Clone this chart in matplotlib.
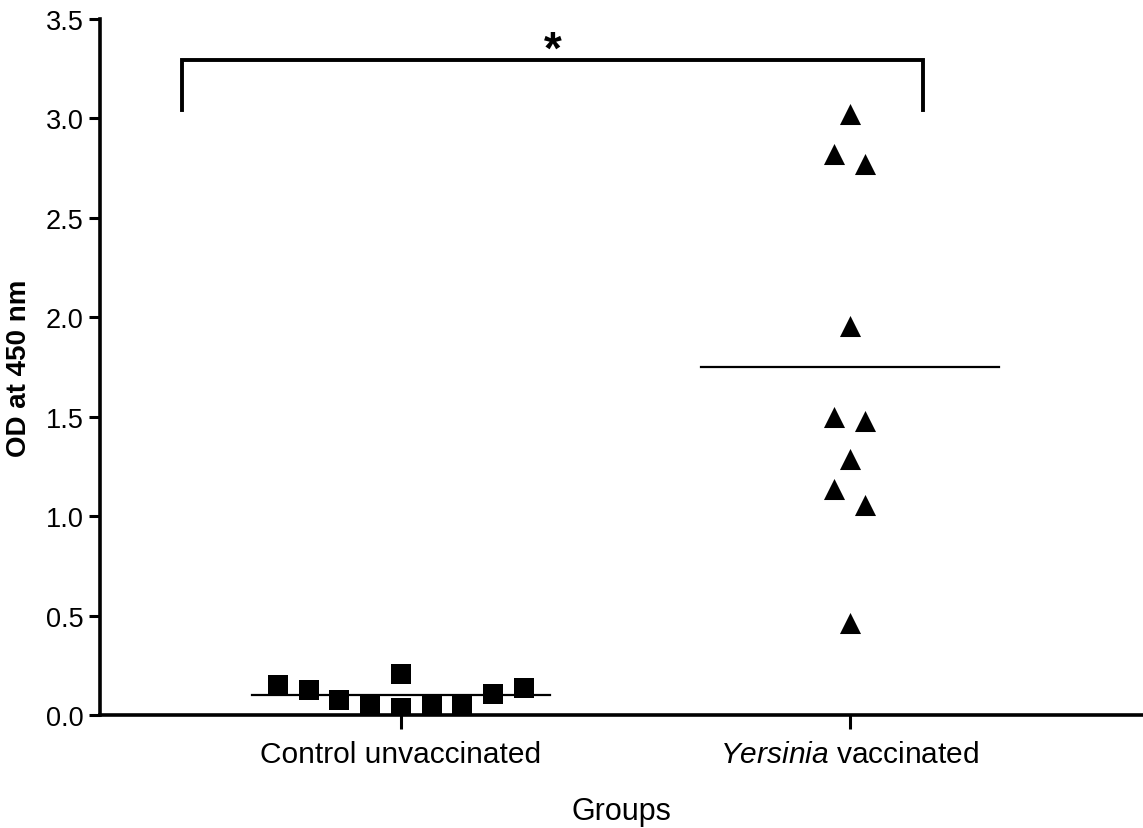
import numpy as np
import matplotlib.pyplot as plt

plt.rcParams['font.family'] = ['Liberation Sans', 'DejaVu Sans']
plt.rcParams['mathtext.fontset'] = 'custom'
plt.rcParams['mathtext.it'] = 'Liberation Sans:italic'
plt.rcParams['mathtext.rm'] = 'Liberation Sans'

groups = ['Control unvaccinated', '$\\it{Yersinia}$ vaccinated']

# OD readings per animal
control_od = [0.152, 0.127, 0.076, 0.057, 0.206, 0.035, 0.057, 0.057, 0.106, 0.134]
control_dx = [-4, -3, -2, -1, 0, 0, 1, 2, 3, 4]
yersinia_od = [3.022, 2.820, 2.770, 1.958, 1.497, 1.478, 1.288, 1.138, 1.056, 0.465]
yersinia_dx = [0, -1, 1, 0, -1, 1, 0, -1, 1, 0]

fig = plt.figure(figsize=(11.43, 8.29), dpi=100)
ax = fig.add_axes([0.0875, 0.1363, 0.9125, 0.8396])

ax.scatter(1 + np.array(control_dx) * 0.0684, control_od, marker='s', s=210,
           color='black', linewidths=0, zorder=3)
ax.scatter(2 + np.array(yersinia_dx) * 0.0345, yersinia_od, marker='^', s=230,
           color='black', linewidths=0, zorder=3)

# mean lines
for pos, vals in zip([1, 2], [control_od, yersinia_od]):
    ax.plot([pos - 0.332, pos + 0.332], [np.mean(vals)] * 2, color='black', lw=1.6, zorder=2)

# significance bracket
ax.plot([0.513, 0.513, 2.164, 2.164], [3.04, 3.293, 3.293, 3.04], color='black', lw=2.8,
        solid_joinstyle='miter', clip_on=False)
ax.text(1.3385, 3.23, '*', ha='center', va='bottom', fontsize=33, fontweight='bold')

ax.set_xlim(0.33, 2.653)
ax.set_ylim(0, 3.5)
yticks = np.arange(0, 3.51, 0.5)
ax.set_yticks(yticks)
ax.set_yticklabels([f'{v:.1f}' for v in yticks])
ax.set_xticks([1, 2])
ax.set_xticklabels(groups)

ax.tick_params(axis='y', labelsize=19.5, length=8, width=2.2, direction='out', pad=4)
ax.tick_params(axis='x', labelsize=21.5, length=10, width=2.2, direction='out', pad=8)

for side in ['top', 'right']:
    ax.spines[side].set_visible(False)
for side in ['left', 'bottom']:
    ax.spines[side].set_linewidth(2.6)

ax.set_xlabel('Groups', fontsize=22, labelpad=20)
ax.set_ylabel('OD at 450 nm', fontsize=20, fontweight='bold', labelpad=10)

fig.savefig('out.png', dpi=100)
